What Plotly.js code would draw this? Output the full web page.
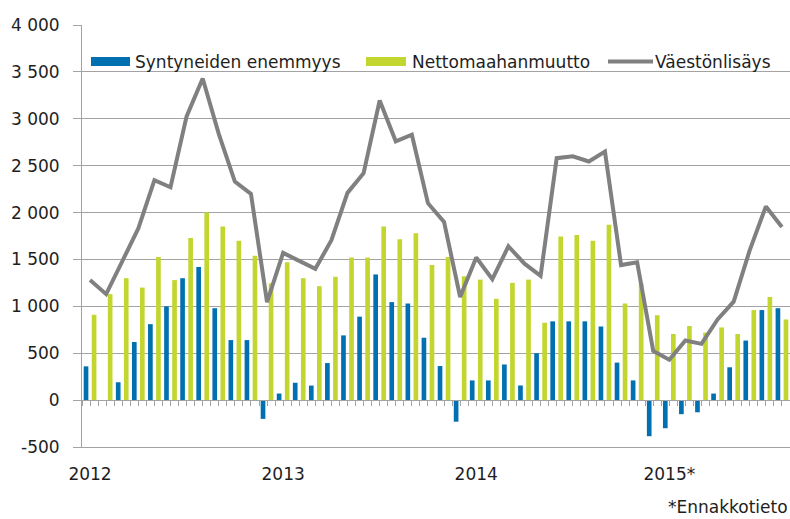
<!DOCTYPE html>
<html>
<head>
<meta charset="utf-8">
<script src="https://cdn.plot.ly/plotly-3.0.1.min.js"></script>
<style>
html,body{margin:0;padding:0;background:#ffffff;}
#chart{width:790px;height:519px;}
</style>
</head>
<body>
<div id="chart"></div>
<script>
// Months (categories)
const months = [
  '2012-01','2012-02','2012-03','2012-04','2012-05','2012-06','2012-07','2012-08','2012-09','2012-10','2012-11','2012-12',
  '2013-01','2013-02','2013-03','2013-04','2013-05','2013-06','2013-07','2013-08','2013-09','2013-10','2013-11','2013-12',
  '2014-01','2014-02','2014-03','2014-04','2014-05','2014-06','2014-07','2014-08','2014-09','2014-10','2014-11','2014-12',
  '2015-01','2015-02','2015-03','2015-04','2015-05','2015-06','2015-07','2015-08'
];
const yearTickLabels = ['2012', '2013', '2014', '2015*'];

// Syntyneiden enemmyys
const naturalIncrease = [
  360, 0, 190, 620, 810, 1000, 1300, 1420, 980, 640, 640, -200,
  70, 185, 155, 395, 690, 890, 1340, 1045, 1030, 665, 363, -230,
  210, 210, 380, 156, 500, 840, 840, 840, 785, 400, 210, -385,
  -300, -150, -130, 70, 350, 635, 960, 980
];
// Nettomaahanmuutto
const netMigration = [
  910, 1130, 1300, 1200, 1525, 1280, 1730, 2000, 1850, 1700, 1540, 1245,
  1470, 1300, 1215, 1315, 1520, 1520, 1850, 1715, 1780, 1440, 1525, 1320,
  1285, 1080, 1250, 1285, 825, 1745, 1760, 1700, 1870, 1030, 1245, 905,
  705, 790, 720, 775, 705, 960, 1100, 860
];
// Väestönlisäys
const populationGrowth = [
  1280, 1130, 1480, 1830, 2345, 2270, 3025, 3430, 2840, 2330, 2200, 1045,
  1570, 1490, 1400, 1705, 2210, 2420, 3195, 2760, 2830, 2100, 1900, 1100,
  1520, 1290, 1640, 1455, 1325, 2580, 2600, 2545, 2650, 1440, 1470, 525,
  430, 635, 600, 860, 1050, 1600, 2065, 1845
];

const yTickValues = [-500, 0, 500, 1000, 1500, 2000, 2500, 3000, 3500, 4000];
const yTickLabels = ['-500', '0', '500', '1 000', '1 500', '2 000', '2 500', '3 000', '3 500', '4 000'];

const seriesNames = ['Syntyneiden enemmyys', 'Nettomaahanmuutto', 'Väestönlisäys'];
const footnote = '*Ennakkotieto';

const BLUE = '#0070b1';
const GREEN = '#c3d62f';
const LINE = '#808080';
const GRID = '#a3a3a3';
const FONT = 'DejaVu Sans, Liberation Sans, sans-serif';
const TXT = '#1e1e1e';

const xIdx = months.map((m, i) => i);
const yearPos = months.map((m, i) => m.endsWith('-01') ? i : null).filter(v => v !== null);
const xRange = [-0.5, months.length - 0.5];

const traces = [
  {type: 'bar', name: seriesNames[0], x: xIdx, y: naturalIncrease, marker: {color: BLUE}, hoverinfo: 'y'},
  {type: 'bar', name: seriesNames[1], x: xIdx, y: netMigration, marker: {color: GREEN}, hoverinfo: 'y'},
  {type: 'scatter', mode: 'lines', name: seriesNames[2], x: xIdx, y: populationGrowth,
   xaxis: 'x2', yaxis: 'y', line: {color: LINE, width: 4}, hoverinfo: 'y'}
];

// legend helpers (paper coordinates)
const L = 82, W = 708, B = 447, H = 422;
const px = v => (v - L) / W;
const py = v => (B - v) / H;
const legY = 61.5;

const layout = {
  width: 790, height: 519,
  margin: {l: L, r: 790 - L - W, t: 25, b: 519 - B},
  paper_bgcolor: '#ffffff', plot_bgcolor: '#ffffff',
  barmode: 'group', bargap: 0, bargroupgap: 0.42,
  showlegend: false,
  font: {family: FONT, size: 17, color: TXT},
  xaxis: {
    range: xRange, tickmode: 'array', tickvals: yearPos, ticktext: yearTickLabels,
    ticks: '', showgrid: false, zeroline: false, showline: true, linecolor: GRID, linewidth: 1,
    ticklabelstandoff: 12, tickfont: {family: FONT, size: 17, color: TXT}, fixedrange: true
  },
  xaxis2: {
    overlaying: 'x', anchor: 'free', position: 500 / 4500, side: 'bottom',
    range: xRange, tickmode: 'linear', tick0: -0.5, dtick: 0.5,
    ticks: 'outside', ticklen: 5, tickwidth: 1, tickcolor: GRID,
    showticklabels: false, showgrid: false, zeroline: false,
    showline: true, linecolor: GRID, linewidth: 1, fixedrange: true
  },
  yaxis: {
    range: [-500, 4000], tickmode: 'array', tickvals: yTickValues, ticktext: yTickLabels,
    ticks: 'outside', ticklen: 8, tickwidth: 1, tickcolor: GRID,
    showgrid: true, gridcolor: GRID, gridwidth: 1, zeroline: false,
    showline: true, linecolor: GRID, linewidth: 1,
    ticklabelstandoff: 10, tickfont: {family: FONT, size: 17, color: TXT}, fixedrange: true
  },
  shapes: [
    {type: 'rect', xref: 'paper', yref: 'paper', x0: px(91), x1: px(130), y0: py(legY + 4.5), y1: py(legY - 4.5),
     fillcolor: BLUE, line: {width: 0}},
    {type: 'rect', xref: 'paper', yref: 'paper', x0: px(366), x1: px(406), y0: py(legY + 4.5), y1: py(legY - 4.5),
     fillcolor: GREEN, line: {width: 0}},
    {type: 'line', xref: 'paper', yref: 'paper', x0: px(608), x1: px(653), y0: py(legY), y1: py(legY),
     line: {color: LINE, width: 4}}
  ],
  annotations: [
    {xref: 'paper', yref: 'paper', x: px(133), y: py(legY), xanchor: 'left', yanchor: 'middle',
     text: seriesNames[0], showarrow: false, font: {family: FONT, size: 17, color: TXT}},
    {xref: 'paper', yref: 'paper', x: px(410), y: py(legY), xanchor: 'left', yanchor: 'middle',
     text: seriesNames[1], showarrow: false, font: {family: FONT, size: 17, color: TXT}},
    {xref: 'paper', yref: 'paper', x: px(653), y: py(legY), xanchor: 'left', yanchor: 'middle',
     text: seriesNames[2], showarrow: false, font: {family: FONT, size: 17, color: TXT}},
    {xref: 'paper', yref: 'paper', x: 1, y: py(507), xanchor: 'right', yanchor: 'middle',
     text: footnote, showarrow: false, font: {family: FONT, size: 17, color: TXT}}
  ]
};

Plotly.newPlot('chart', traces, layout, {displayModeBar: false, staticPlot: true});
</script>
</body>
</html>
